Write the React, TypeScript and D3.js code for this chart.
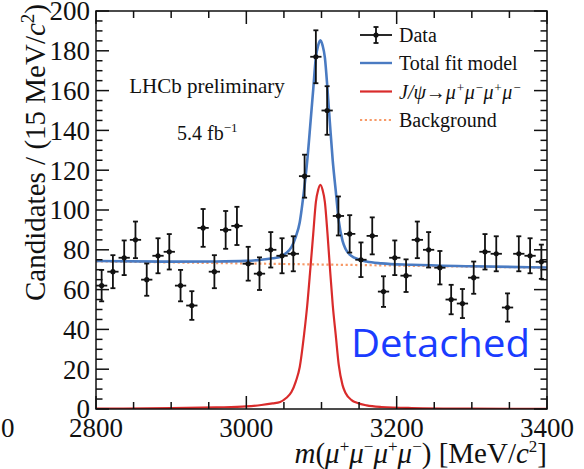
import { useEffect, useRef } from "react";
import * as d3 from "d3";

// binned data, 15 MeV bins
const binCenters = [
  2807.5, 2822.5, 2837.5, 2852.5, 2867.5, 2882.5, 2897.5, 2912.5, 2927.5, 2942.5,
  2957.5, 2972.5, 2987.5, 3002.5, 3017.5, 3032.5, 3047.5, 3062.5, 3077.5, 3092.5,
  3107.5, 3122.5, 3137.5, 3152.5, 3167.5, 3182.5, 3197.5, 3212.5, 3227.5, 3242.5,
  3257.5, 3272.5, 3287.5, 3302.5, 3317.5, 3332.5, 3347.5, 3362.5, 3377.5, 3392.5,
];
const counts = [
  62, 69, 76, 85, 65, 77, 79, 62, 52, 91,
  69, 90, 92, 73, 68, 80, 77, 78, 117, 177,
  150, 97, 88, 75, 87, 59, 76, 67, 85, 80,
  71, 55, 53, 66, 79, 78, 51, 78, 77, 74,
];
const errors = [
  7.9, 8.3, 8.7, 9.2, 8.1, 8.8, 8.9, 7.9, 7.2, 9.5,
  8.3, 9.5, 9.6, 8.5, 8.2, 8.9, 8.8, 8.8, 10.8, 13.3,
  12.2, 9.8, 9.4, 8.7, 9.3, 7.7, 8.7, 8.2, 9.2, 8.9,
  8.4, 7.4, 7.3, 8.1, 8.9, 8.8, 7.1, 8.8, 8.8, 8.6,
];

// J/psi signal shape
const signalMass = [
  2800, 2900, 2960, 3000, 3020, 3035, 3045, 3053, 3060, 3066, 3071, 3077, 3081,
  3085.5, 3089, 3092.5, 3095.5, 3098.5, 3101.5, 3104.5, 3108, 3111, 3115, 3119,
  3123, 3128, 3132, 3140, 3148, 3160, 3180, 3220, 3300, 3400,
];
const signalValue = [
  0.2, 0.4, 0.8, 1.3, 2.0, 2.8, 3.5, 5.5, 8.5, 14, 21, 38, 52,
  72, 88, 104, 110, 112.7, 110, 104, 88, 72, 52, 37,
  22, 12, 8, 4.5, 3, 1.8, 1.0, 0.5, 0.2, 0.1,
];

// linear background, end points
const bkgMass = [2800, 3400];
const bkgValue = [74.2, 71.0];

const xTicks = [2800, 3000, 3200, 3400];
const yTicks = [0, 20, 40, 60, 80, 100, 120, 140, 160, 180, 200];

const BLUE = "#4a7bc2";
const RED = "#d92b2b";
const ORANGE = "#f79a68";
const SERIF = "'Liberation Serif', 'Times New Roman', serif";

function FitPlot() {
  const svgRef = useRef<SVGSVGElement>(null);

  useEffect(() => {
    const width = 584;
    const height = 469;
    const margin = { top: 11, right: 37, bottom: 60, left: 96 };

    const svg = d3.select(svgRef.current);
    svg.selectAll("*").remove();
    svg.attr("width", width).attr("height", height);

    const x = d3.scaleLinear().domain([2800, 3400]).range([margin.left, width - margin.right]);
    const y = d3.scaleLinear().domain([0, 200]).range([height - margin.bottom, margin.top]);
    const bkg = d3.scaleLinear().domain(bkgMass).range(bkgValue);

    svg.append("rect").attr("width", width).attr("height", height).attr("fill", "#fff");

    svg
      .append("clipPath")
      .attr("id", "plot-clip")
      .append("rect")
      .attr("x", margin.left)
      .attr("y", margin.top)
      .attr("width", width - margin.left - margin.right)
      .attr("height", height - margin.top - margin.bottom);

    const plot = svg.append("g").attr("clip-path", "url(#plot-clip)");

    const line = d3
      .line<[number, number]>()
      .x(d => x(d[0]))
      .y(d => y(d[1]))
      .curve(d3.curveMonotoneX);

    // background (dotted)
    plot
      .append("path")
      .attr("d", line(bkgMass.map((m, i) => [m, bkgValue[i]])))
      .attr("fill", "none")
      .attr("stroke", ORANGE)
      .attr("stroke-width", 2.2)
      .attr("stroke-dasharray", "2.2,2.6");

    // signal
    plot
      .append("path")
      .attr("d", line(signalMass.map((m, i) => [m, signalValue[i]])))
      .attr("fill", "none")
      .attr("stroke", RED)
      .attr("stroke-width", 2.2);

    // total = signal + background
    plot
      .append("path")
      .attr("d", line(signalMass.map((m, i) => [m, signalValue[i] + bkg(m)])))
      .attr("fill", "none")
      .attr("stroke", BLUE)
      .attr("stroke-width", 2.6);

    // data points
    const pts = plot
      .selectAll("g.pt")
      .data(binCenters.map((c, i) => ({ c, v: counts[i], e: errors[i] })))
      .enter()
      .append("g")
      .attr("class", "pt")
      .attr("stroke", "#111")
      .attr("stroke-width", 1.8);

    pts
      .append("line")
      .attr("x1", d => x(d.c - 7.5))
      .attr("x2", d => x(d.c + 7.5))
      .attr("y1", d => y(d.v))
      .attr("y2", d => y(d.v));
    pts
      .append("line")
      .attr("x1", d => x(d.c))
      .attr("x2", d => x(d.c))
      .attr("y1", d => y(d.v - d.e))
      .attr("y2", d => y(d.v + d.e));
    pts
      .append("line")
      .attr("x1", d => x(d.c) - 2.5)
      .attr("x2", d => x(d.c) + 2.5)
      .attr("y1", d => y(d.v + d.e))
      .attr("y2", d => y(d.v + d.e));
    pts
      .append("line")
      .attr("x1", d => x(d.c) - 2.5)
      .attr("x2", d => x(d.c) + 2.5)
      .attr("y1", d => y(d.v - d.e))
      .attr("y2", d => y(d.v - d.e));
    pts
      .append("circle")
      .attr("cx", d => x(d.c))
      .attr("cy", d => y(d.v))
      .attr("r", 2.6)
      .attr("fill", "#111")
      .attr("stroke", "none");

    // frame and ticks on all four sides
    const axes = svg.append("g").attr("stroke", "#111").attr("stroke-width", 1.5);
    axes
      .append("rect")
      .attr("x", margin.left)
      .attr("y", margin.top)
      .attr("width", width - margin.left - margin.right)
      .attr("height", height - margin.top - margin.bottom)
      .attr("fill", "none");

    const xMinor = d3.range(2800, 3401, 50);
    xMinor.forEach(v => {
      const len = v % 200 === 0 ? 13 : 7;
      axes.append("line").attr("x1", x(v)).attr("x2", x(v))
        .attr("y1", y(0)).attr("y2", y(0) - len);
      axes.append("line").attr("x1", x(v)).attr("x2", x(v))
        .attr("y1", y(200)).attr("y2", y(200) + len);
    });
    const yMinor = d3.range(0, 201, 5);
    yMinor.forEach(v => {
      const len = v % 20 === 0 ? 13 : 6.5;
      axes.append("line").attr("x1", x(2800)).attr("x2", x(2800) + len)
        .attr("y1", y(v)).attr("y2", y(v));
      axes.append("line").attr("x1", x(3400)).attr("x2", x(3400) - len)
        .attr("y1", y(v)).attr("y2", y(v));
    });

    // tick labels
    svg
      .selectAll("text.ylab")
      .data(yTicks)
      .enter()
      .append("text")
      .attr("class", "ylab")
      .attr("x", margin.left - 6)
      .attr("y", d => y(d))
      .attr("dy", "0.35em")
      .attr("text-anchor", "end")
      .attr("font-family", SERIF)
      .attr("font-size", 27)
      .attr("fill", "#111")
      .text(d => d);

    svg
      .selectAll("text.xlab")
      .data(xTicks)
      .enter()
      .append("text")
      .attr("class", "xlab")
      .attr("x", d => x(d))
      .attr("y", 437)
      .attr("text-anchor", "middle")
      .attr("font-family", SERIF)
      .attr("font-size", 27)
      .attr("fill", "#111")
      .text(d => d);

    // stray label from the neighbouring panel
    svg.append("text").attr("x", 1).attr("y", 437)
      .attr("font-family", SERIF).attr("font-size", 27).attr("fill", "#111").text("0");

    // axis titles
    const yTitle = svg
      .append("text")
      .attr("transform", "translate(45, 4) rotate(-90)")
      .attr("text-anchor", "end")
      .attr("font-family", SERIF)
      .attr("font-size", 29)
      .attr("fill", "#111");
    yTitle.append("tspan").text("Candidates / (15 MeV/");
    yTitle.append("tspan").attr("font-style", "italic").text("c");
    yTitle.append("tspan").attr("font-size", 19).attr("dy", -11).text("2");
    yTitle.append("tspan").attr("dy", 11).text(")");

    const xTitle = svg
      .append("text")
      .attr("x", width - margin.right)
      .attr("y", 463)
      .attr("text-anchor", "end")
      .attr("font-family", SERIF)
      .attr("font-size", 29)
      .attr("fill", "#111");
    const sup = (sel: any, s: string) =>
      sel.append("tspan").attr("font-size", 17).attr("dy", -11).text(s);
    const back = (sel: any, s: string, italic = true) =>
      sel.append("tspan").attr("dy", 11).attr("font-style", italic ? "italic" : "normal").text(s);
    xTitle.append("tspan").attr("font-style", "italic").text("m");
    xTitle.append("tspan").text("(");
    xTitle.append("tspan").attr("font-style", "italic").text("μ");
    sup(xTitle, "+");
    back(xTitle, "μ");
    sup(xTitle, "−");
    back(xTitle, "μ");
    sup(xTitle, "+");
    back(xTitle, "μ");
    sup(xTitle, "−");
    back(xTitle, ") [MeV/", false);
    xTitle.append("tspan").attr("font-style", "italic").text("c");
    sup(xTitle, "2");
    back(xTitle, "]", false);

    // annotations
    svg.append("text").attr("x", 207).attr("y", 93).attr("text-anchor", "middle")
      .attr("font-family", SERIF).attr("font-size", 21).attr("fill", "#111")
      .text("LHCb preliminary");
    const lumi = svg.append("text").attr("x", 177).attr("y", 140)
      .attr("font-family", SERIF).attr("font-size", 20).attr("fill", "#111");
    lumi.append("tspan").text("5.4 fb");
    lumi.append("tspan").attr("font-size", 13).attr("dy", -8).text("−1");

    // legend
    const legend = svg.append("g").attr("transform", "translate(360, 0)");
    const rows = [35, 63, 91.5, 120];
    const lg = legend.append("g").attr("stroke", "#111").attr("stroke-width", 1.8);
    lg.append("line").attr("x1", 0).attr("x2", 32).attr("y1", rows[0]).attr("y2", rows[0]);
    lg.append("line").attr("x1", 16).attr("x2", 16).attr("y1", rows[0] - 8).attr("y2", rows[0] + 8);
    lg.append("line").attr("x1", 13.5).attr("x2", 18.5).attr("y1", rows[0] - 8).attr("y2", rows[0] - 8);
    lg.append("line").attr("x1", 13.5).attr("x2", 18.5).attr("y1", rows[0] + 8).attr("y2", rows[0] + 8);
    legend.append("circle").attr("cx", 16).attr("cy", rows[0]).attr("r", 2.6).attr("fill", "#111");
    legend.append("line").attr("x1", 0).attr("x2", 32).attr("y1", rows[1]).attr("y2", rows[1])
      .attr("stroke", BLUE).attr("stroke-width", 2.4);
    legend.append("line").attr("x1", 0).attr("x2", 32).attr("y1", rows[2]).attr("y2", rows[2])
      .attr("stroke", RED).attr("stroke-width", 2.2);
    legend.append("line").attr("x1", 0).attr("x2", 32).attr("y1", rows[3]).attr("y2", rows[3])
      .attr("stroke", ORANGE).attr("stroke-width", 2.2).attr("stroke-dasharray", "2.2,2.6");

    const ltext = (i: number) =>
      legend.append("text").attr("x", 39).attr("y", rows[i] + 7)
        .attr("font-family", SERIF).attr("font-size", 20).attr("fill", "#111");
    ltext(0).text("Data");
    ltext(1).text("Total fit model");
    const jp = ltext(2).attr("font-style", "italic");
    jp.append("tspan").text("J/ψ→μ");
    const lsup = (s: string) => jp.append("tspan").attr("font-size", 13).attr("dy", -7).text(s);
    const lback = (s: string) => jp.append("tspan").attr("dy", 7).text(s);
    lsup("+"); lback("μ"); lsup("−"); lback("μ"); lsup("+"); lback("μ"); lsup("−");
    ltext(3).text("Background");

    svg.append("text").attr("x", 351).attr("y", 357)
      .attr("font-family", "'Open Sans', 'Noto Sans', sans-serif")
      .attr("font-size", 38)
      .attr("fill", "#1a3cff")
      .attr("textLength", 179)
      .attr("lengthAdjust", "spacingAndGlyphs")
      .text("Detached");
  }, []);

  return <svg ref={svgRef}></svg>;
}

export default function App() {
  return (
    <div style={{ position: "absolute", left: 0, top: 0 }}>
      <FitPlot />
    </div>
  );
}
